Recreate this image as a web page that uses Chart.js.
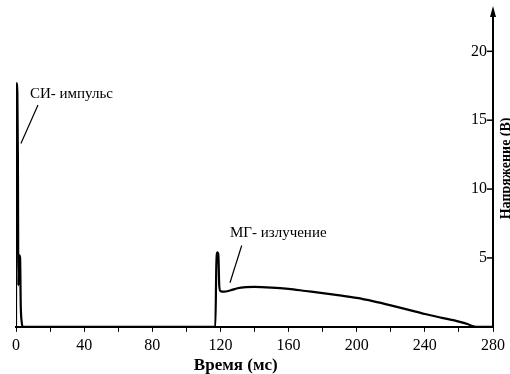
<!DOCTYPE html>
<html lang="ru">
<head>
<meta charset="UTF-8">
<title>СИ-импульс и МГ-излучение</title>
<script src="https://cdn.jsdelivr.net/npm/chart.js"></script>
<style>
  body { margin: 0; background: #fff; }
</style>
</head>
<body>
<canvas id="chart" width="510" height="374"></canvas>
<script>
// время (мс) и напряжение (В)
const timeMs = [0, 0.2, 0.8, 1.1, 1.4, 1.8, 2.4, 2.8, 3.3, 4,
  117, 117.6, 118.2, 118.8, 119.3, 120, 122, 126, 130, 135, 140, 150, 160,
  170, 180, 190, 200, 210, 220, 230, 240, 250, 260, 265, 268, 270, 280];
const voltage = [0, 17.7, 17.0, 12.5, 3.0, 5.2, 5.0, 1.5, 0.4, 0,
  0, 4.5, 5.4, 5.2, 3.0, 2.6, 2.55, 2.65, 2.8, 2.88, 2.9, 2.85, 2.75,
  2.6, 2.45, 2.28, 2.1, 1.85, 1.56, 1.25, 0.93, 0.65, 0.38, 0.2, 0.05, 0, 0];

const yTicks = [5, 10, 15, 20];
const xTitle = 'Время (мс)';
const yTitle = 'Напряжение (В)';

// подписи со стрелками (в единицах осей)
const noteText = ['СИ- импульс', 'МГ- излучение'];
const noteAt = [[8.2, 16.9], [125.6, 6.8]];
const noteFrom = [[12.9, 16.1], [132.5, 5.9]];
const noteTo = [[2.9, 13.3], [125.6, 3.2]];

const serif = 'Liberation Serif';

const extras = {
  id: 'extras',
  afterDraw(chart) {
    const ctx = chart.ctx;
    const x = chart.scales.x, y = chart.scales.y;
    const area = chart.chartArea;
    ctx.save();
    ctx.fillStyle = '#000';
    ctx.strokeStyle = '#000';

    // деления и подписи оси Y (внутрь)
    ctx.lineWidth = 1.5;
    ctx.font = '16px "' + serif + '"';
    ctx.textAlign = 'right';
    ctx.textBaseline = 'middle';
    yTicks.forEach(v => {
      const py = y.getPixelForValue(v);
      ctx.beginPath();
      ctx.moveTo(area.right - 6, py);
      ctx.lineTo(area.right, py);
      ctx.stroke();
      ctx.fillText(String(v), area.right - 6, py);
    });

    // стрелка оси Y
    ctx.beginPath();
    ctx.moveTo(area.right, area.top - 4);
    ctx.lineTo(area.right - 3, area.top + 7);
    ctx.lineTo(area.right + 3, area.top + 7);
    ctx.closePath();
    ctx.fill();

    // заголовок оси Y
    ctx.save();
    ctx.translate(area.right + 13, y.getPixelForValue(11.5));
    ctx.rotate(-Math.PI / 2);
    ctx.textAlign = 'center';
    ctx.font = 'bold 14px "' + serif + '"';
    ctx.fillText(yTitle, 0, 0);
    ctx.restore();

    // заголовок оси X
    ctx.font = 'bold 17px "' + serif + '"';
    ctx.textAlign = 'center';
    ctx.fillText(xTitle, x.getPixelForValue(129), 366);

    // подписи
    ctx.font = '15px "' + serif + '"';
    ctx.textAlign = 'left';
    ctx.lineWidth = 1.2;
    noteText.forEach((t, i) => {
      ctx.fillText(t, x.getPixelForValue(noteAt[i][0]), y.getPixelForValue(noteAt[i][1]));
      ctx.beginPath();
      ctx.moveTo(x.getPixelForValue(noteFrom[i][0]), y.getPixelForValue(noteFrom[i][1]));
      ctx.lineTo(x.getPixelForValue(noteTo[i][0]), y.getPixelForValue(noteTo[i][1]));
      ctx.stroke();
    });
    ctx.restore();
  }
};

new Chart(document.getElementById('chart'), {
  type: 'line',
  data: {
    datasets: [{
      data: timeMs.map((t, i) => ({ x: t, y: voltage[i] })),
      borderColor: '#000',
      borderWidth: 2.2,
      pointRadius: 0,
      cubicInterpolationMode: 'monotone',
      fill: false
    }]
  },
  options: {
    responsive: false,
    animation: false,
    layout: { padding: { left: 16, right: 9, top: 10, bottom: 15 } },
    plugins: { legend: { display: false }, tooltip: { enabled: false } },
    scales: {
      x: {
        type: 'linear',
        min: 0,
        max: 280,
        ticks: {
          stepSize: 20,
          color: '#000',
          font: { family: serif, size: 16 },
          padding: 4,
          maxRotation: 0,
          callback: v => (v % 40 === 0 ? v : '')
        },
        grid: { drawOnChartArea: false, tickLength: 5, color: '#000' },
        border: { color: '#000', width: 2 }
      },
      y: {
        position: 'right',
        min: 0,
        max: 23,
        ticks: { display: false, stepSize: 5 },
        grid: { display: false },
        border: { color: '#000', width: 2 }
      }
    }
  },
  plugins: [extras]
});
</script>
</body>
</html>
